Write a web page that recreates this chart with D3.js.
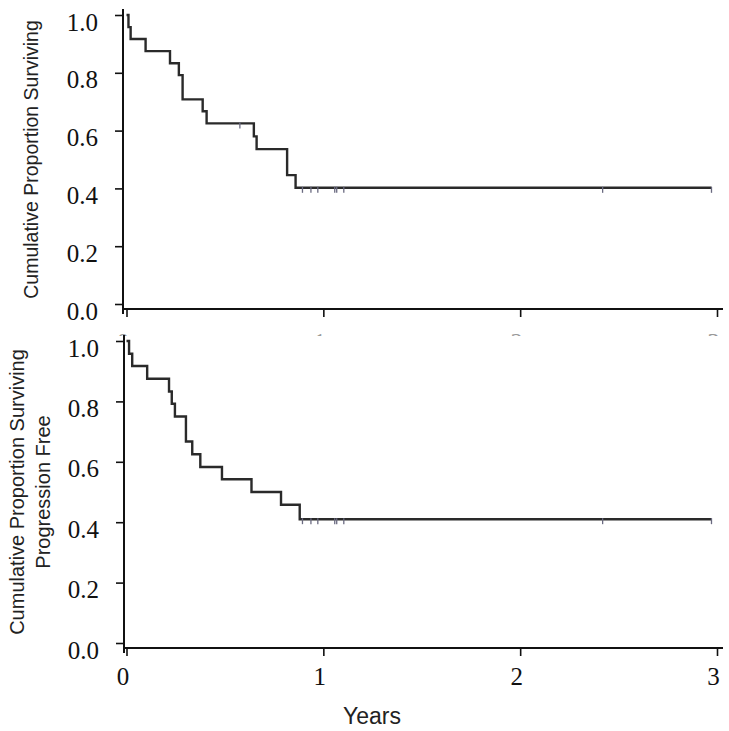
<!DOCTYPE html>
<html><head><meta charset="utf-8">
<script src="https://cdn.jsdelivr.net/npm/d3@7"></script>
<style>body{margin:0;background:#fff}</style>
</head><body>
<svg id="c" width="729" height="731"></svg>
<script>
// ---- data ----
const yTicks = [0, 0.2, 0.4, 0.6, 0.8, 1.0];
const xTicks = [0, 1, 2, 3];
const xTickLabels = ["0", "1", "2", "3"];

// Overall survival (top panel): step times (years) and survival after each step
const osTimes = [0, 0.010, 0.021, 0.097, 0.221, 0.266, 0.285, 0.387, 0.407, 0.647, 0.661, 0.816, 0.859];
const osSurv  = [1.0, 0.958, 0.917, 0.875, 0.833, 0.792, 0.708, 0.667, 0.625, 0.580, 0.536, 0.446, 0.402];
const osCensor = [0.576, 0.894, 0.937, 0.972, 1.058, 1.068, 1.104, 2.419, 2.972];

// Progression-free survival (bottom panel)
const pfsTimes = [0, 0.013, 0.029, 0.105, 0.216, 0.230, 0.246, 0.302, 0.334, 0.375, 0.485, 0.635, 0.785, 0.880];
const pfsSurv  = [1.0, 0.958, 0.917, 0.875, 0.833, 0.792, 0.750, 0.667, 0.625, 0.583, 0.542, 0.500, 0.458, 0.410];
const pfsCensor = [0.894, 0.937, 0.972, 1.058, 1.068, 1.104, 2.419, 2.972];

const svg = d3.select("#c");
const x = d3.scaleLinear().domain([0, 3]).range([126.5, 717]);

function panel(cfg) {
  const y = d3.scaleLinear().domain([0, 1]).range([cfg.y0, cfg.y1]);
  const g = svg.append("g");
  // L-shaped frame
  g.append("path")
    .attr("d", `M${cfg.axisX},${cfg.top} V${cfg.axisY + 5} M${cfg.axisX},${cfg.axisY} H${723}`)
    .attr("fill", "none").attr("stroke", "#111").attr("stroke-width", 2);
  // y axis ticks
  const ya = d3.axisLeft(y).tickValues(yTicks).tickSize(8).tickFormat(d3.format(".1f"));
  const yg = g.append("g").attr("transform", `translate(${cfg.axisX},0)`).call(ya);
  yg.select(".domain").remove();
  yg.selectAll(".tick line").attr("stroke", "#111").attr("stroke-width", 1.6);
  yg.selectAll(".tick text")
    .attr("x", -25).attr("dy", "0.32em").attr("y", 7)
    .style("font-family", "'Liberation Serif','Times New Roman',serif")
    .style("font-size", "25px").attr("fill", "#111");
  // x axis ticks
  const xa = d3.axisBottom(x).tickValues(xTicks).tickSize(8).tickFormat((d, i) => xTickLabels[i]);
  const xg = g.append("g").attr("transform", `translate(0,${cfg.axisY})`).call(xa);
  xg.select(".domain").remove();
  xg.selectAll(".tick line").attr("stroke", "#111").attr("stroke-width", 1.6);
  xg.selectAll(".tick text")
    .attr("x", -4).attr("y", cfg.labelY).attr("dy", 0)
    .style("font-family", "'Liberation Serif','Times New Roman',serif")
    .style("font-size", "25px").attr("fill", "#111");
  if (cfg.clipId) {
    // only the very top of the upper panel's x labels peeks out (as in the reference)
    svg.append("clipPath").attr("id", cfg.clipId)
      .append("rect").attr("x", 0).attr("y", 0).attr("width", 729).attr("height", cfg.clipH);
    xg.attr("clip-path", `url(#${cfg.clipId})`);
    xg.selectAll(".tick text").attr("fill", "#999");
  }
  // curve
  const pts = cfg.times.map((t, i) => [t, cfg.surv[i]]);
  pts.push([d3.max(cfg.censor), cfg.surv[cfg.surv.length - 1]]);
  const line = d3.line().x(d => x(d[0])).y(d => y(d[1])).curve(d3.curveStepAfter);
  g.append("path").datum(pts).attr("d", line)
    .attr("fill", "none").attr("stroke", "#2a2a2a").attr("stroke-width", 2.4);
  // censor marks
  const survAt = t => cfg.surv[d3.bisectRight(cfg.times, t) - 1];
  g.selectAll(".cens").data(cfg.censor).join("line")
    .attr("x1", d => x(d)).attr("x2", d => x(d))
    .attr("y1", d => y(survAt(d)) - 1).attr("y2", d => y(survAt(d)) + 5)
    .attr("stroke", "#6a6a80").attr("stroke-width", 1.3);
  // titles
  cfg.titles.forEach(tt => {
    g.append("text")
      .attr("transform", `translate(${tt.x},${(cfg.y0 + cfg.y1) / 2}) rotate(-90)`)
      .attr("text-anchor", "middle").attr("dy", "0.35em")
      .style("font-family", "'Liberation Sans',Arial,sans-serif")
      .style("font-size", tt.size + "px").attr("fill", "#222")
      .text(tt.text);
  });
}

panel({
  y0: 304, y1: 15, axisX: 123, axisY: 309, top: 9,
  times: osTimes, surv: osSurv, censor: osCensor,
  labelY: 42, clipId: "clipTop", clipH: 27,
  titles: [{ x: 31, text: "Cumulative Proportion Surviving", size: 19.5 }]
});
panel({
  y0: 643, y1: 341, axisX: 124, axisY: 648, top: 335,
  times: pfsTimes, surv: pfsSurv, censor: pfsCensor,
  labelY: 37,
  titles: [
    { x: 17, text: "Cumulative Proportion Surviving", size: 20 },
    { x: 43, text: "Progression Free", size: 20 }
  ]
});

svg.append("text").attr("x", 372).attr("y", 716).attr("dy", "0.35em")
  .attr("text-anchor", "middle")
  .style("font-family", "'Liberation Sans',Arial,sans-serif")
  .style("font-size", "23px").attr("fill", "#222").text("Years");
</script>
</body></html>
